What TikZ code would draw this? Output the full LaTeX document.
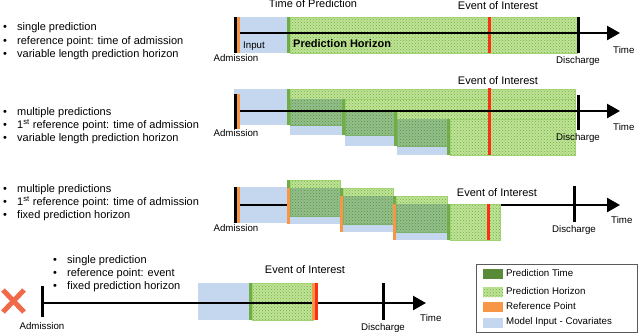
\documentclass[tikz,border=0pt]{standalone}
\usepackage{fontspec}
\setmainfont{Liberation Sans}
\usetikzlibrary{arrows.meta,patterns}
\definecolor{inblue}{RGB}{197,215,238}
\definecolor{hgreen}{RGB}{192,227,152}
\definecolor{hdot}{RGB}{112,176,62}
\definecolor{gedge}{RGB}{160,210,115}
\definecolor{ptgreen}{RGB}{112,173,71}
\definecolor{ptdark}{RGB}{88,138,55}
\definecolor{reforange}{RGB}{247,150,70}
\definecolor{evred}{RGB}{250,50,20}
\definecolor{xred}{RGB}{240,105,75}
\definecolor{legedge}{RGB}{90,90,90}
\begin{document}
\begin{tikzpicture}[x=1pt,y=-1pt,
  txt/.style={inner sep=0pt, text height=0.72em, text depth=0.22em},
  big/.style={txt, font=\fontsize{11}{13}\selectfont},
  bigb/.style={txt, font=\fontsize{11}{13}\selectfont\bfseries},
  small/.style={txt, font=\fontsize{9.7}{11}\selectfont},
  inbox/.style={fill=inblue},
  inboxm/.style={fill=inblue, blend mode=multiply},
  hbox/.style={preaction={fill=hgreen}, pattern=crosshatch dots, pattern color=hdot, draw=gedge, line width=0.6pt},
  ptstrip/.style={fill=ptgreen},
  refstrip/.style={fill=reforange},
  evstrip/.style={fill=evred},
  bar/.style={fill=black},
  axis/.style={line width=2.5pt, -{Triangle[length=13pt,width=14pt]}},
]
\useasboundingbox (0,0) rectangle (640,333);

% ---------------- Panel 1 ----------------
\node[big, anchor=west] (p1b1) at (3,28) {•};
\node[big, anchor=west] (p1t1) at (17,28) {single prediction};
\node[big, anchor=west] (p1b2) at (3,42) {•};
\node[big, anchor=west] (p1t2) at (17,42) {reference point: time of admission};
\node[big, anchor=west] (p1b3) at (3,55) {•};
\node[big, anchor=west] (p1t3) at (17,55) {variable length prediction horizon};

\fill[inbox] (240,17) rectangle (287,53);
\path[hbox] (290,17) rectangle (577,53);
\fill[ptstrip] (287,17) rectangle (290,53);
\fill[evstrip] (488,17) rectangle (491,53);
\fill[bar] (577,17) rectangle (580,53);
\fill[bar] (234,17) rectangle (237,53);
\fill[refstrip] (237,17) rectangle (240,53);
\coordinate (a1s) at (240,33);
\coordinate (a1e) at (620,33);
\draw[axis] (a1s) -- (a1e);
\node[big] (p1tp) at (313,5) {Time of Prediction};
\node[big] (p1ev) at (498,7) {Event of Interest};
\node[small, anchor=west] (p1in) at (243,46) {Input};
\node[bigb, anchor=west] (p1ph) at (293,44.5) {Prediction Horizon};
\node[small] (p1ad) at (236,59) {Admission};
\node[small] (p1dc) at (578,61) {Discharge};
\node[small, anchor=west] (p1ti) at (613,51) {Time};

% ---------------- Panel 2 ----------------
\node[big, anchor=west] (p2b1) at (3,112.5) {•};
\node[big, anchor=west] (p2t1) at (17,112.5) {multiple predictions};
\node[big, anchor=west] (p2b2) at (3,126) {•};
\node[big, anchor=west] (p2t2) at (17,126) {1\textsuperscript{st} reference point: time of admission};
\node[big, anchor=west] (p2b3) at (3,138.5) {•};
\node[big, anchor=west] (p2t3) at (17,138.5) {variable length prediction horizon};

\fill[inbox] (234,89) rectangle (287,125);
\path[hbox] (290,89) rectangle (575,125);
\fill[ptstrip] (287,89) rectangle (290,125);

\fill[inboxm] (290,99) rectangle (342,135);
\path[hbox] (345,99) rectangle (575,135);
\fill[ptstrip] (342,99) rectangle (345,135);

\fill[inboxm] (345,110) rectangle (394,146);
\path[hbox] (397,110) rectangle (575,146);
\fill[ptstrip] (394,110) rectangle (397,146);

\fill[inboxm] (397,119) rectangle (447,155);
\path[hbox] (450,119) rectangle (575,155);
\fill[ptstrip] (447,119) rectangle (450,155);

\fill[evstrip] (488,88) rectangle (491,155);
\fill[bar] (577,95) rectangle (580,130);
\fill[bar] (234,94) rectangle (237,129);
\fill[refstrip] (237,94) rectangle (240,129);
\coordinate (a2s) at (240,111);
\coordinate (a2e) at (620,111);
\draw[axis] (a2s) -- (a2e);
\node[big] (p2ev) at (498,82) {Event of Interest};
\node[small] (p2ad) at (236,134) {Admission};
\node[small] (p2dc) at (578,138) {Discharge};
\node[small, anchor=west] (p2ti) at (613,128) {Time};

% ---------------- Panel 3 ----------------
\node[big, anchor=west] (p3b1) at (3,189.5) {•};
\node[big, anchor=west] (p3t1) at (17,189.5) {multiple predictions};
\node[big, anchor=west] (p3b2) at (3,203) {•};
\node[big, anchor=west] (p3t2) at (17,203) {1\textsuperscript{st} reference point: time of admission};
\node[big, anchor=west] (p3b3) at (3,216) {•};
\node[big, anchor=west] (p3t3) at (17,216) {fixed prediction horizon};

\fill[inbox] (240,187) rectangle (287,223);
\fill[bar] (234,187) rectangle (237,223);
\fill[refstrip] (237,187) rectangle (240,223);
\coordinate (a3s) at (240,205);
\coordinate (a3e) at (620,205);
\draw[axis] (a3s) -- (a3e);

\path[hbox] (290,180) rectangle (340,216);
\fill[ptstrip] (287,180) rectangle (290,216);

\fill[inboxm] (290,188) rectangle (340,224);
\fill[refstrip] (287,188) rectangle (290,224);
\path[hbox] (343,188) rectangle (393,224);
\fill[ptstrip] (340,188) rectangle (343,224);

\fill[inboxm] (343,196) rectangle (393,232);
\fill[refstrip] (340,196) rectangle (343,232);
\path[hbox] (396,196) rectangle (447,232);
\fill[ptstrip] (393,196) rectangle (396,232);

\fill[inboxm] (396,204) rectangle (447,240);
\fill[refstrip] (393,204) rectangle (396,240);
\path[hbox] (450,204) rectangle (500,240);
\fill[ptstrip] (447,204) rectangle (450,240);

\fill[evstrip] (487,204) rectangle (490,240);
\fill[bar] (573,186) rectangle (576,222);
\node[big] (p3ev) at (497,194) {Event of Interest};
\node[small] (p3ad) at (236,229) {Admission};
\node[small] (p3dc) at (574,230) {Discharge};
\node[small, anchor=west] (p3ti) at (611,221) {Time};

% ---------------- Panel 4 ----------------
\draw[xred, line width=5pt] (3,290) -- (24,312);
\draw[xred, line width=5pt] (3,312) -- (24,290);

\node[big, anchor=west] (p4b1) at (53,260.5) {•};
\node[big, anchor=west] (p4t1) at (67,260.5) {single prediction};
\node[big, anchor=west] (p4b2) at (53,274) {•};
\node[big, anchor=west] (p4t2) at (67,274) {reference point: event};
\node[big, anchor=west] (p4b3) at (53,286.5) {•};
\node[big, anchor=west] (p4t3) at (67,286.5) {fixed prediction horizon};

\fill[inbox] (198,283) rectangle (249,320);
\path[hbox] (252,283) rectangle (313,320);
\fill[ptstrip] (249,283) rectangle (252,320);
\coordinate (a4s) at (43,303);
\coordinate (a4e) at (426,303);
\draw[axis] (a4s) -- (a4e);
\fill[refstrip] (312,283) rectangle (315,320);
\fill[evstrip] (315,283) rectangle (318,320);
\fill[bar] (40.5,286) rectangle (43.5,317);
\fill[bar] (382,283) rectangle (385,320);
\node[big] (p4ev) at (305,271) {Event of Interest};
\node[small] (p4ad) at (42,327) {Admission};
\node[small] (p4dc) at (383,328) {Discharge};
\node[small, anchor=west] (p4ti) at (420,318.5) {Time};

% ---------------- Legend ----------------
\draw[legedge, line width=0.8pt, fill=white] (476,264) rectangle (637,332);
\fill[ptdark] (483,269) rectangle (503,279);
\path[preaction={fill=hgreen}, pattern=crosshatch dots, pattern color=hdot] (483,287) rectangle (503,297);
\fill[reforange] (483,302) rectangle (503,312);
\fill[inblue] (483,318) rectangle (503,328);
\node[small, anchor=west] (l1) at (506,274) {Prediction Time};
\node[small, anchor=west] (l2) at (506,292) {Prediction Horizon};
\node[small, anchor=west] (l3) at (506,307) {Reference Point};
\node[small, anchor=west] (l4) at (506,322) {Model Input - Covariates};
\end{tikzpicture}
\end{document}
